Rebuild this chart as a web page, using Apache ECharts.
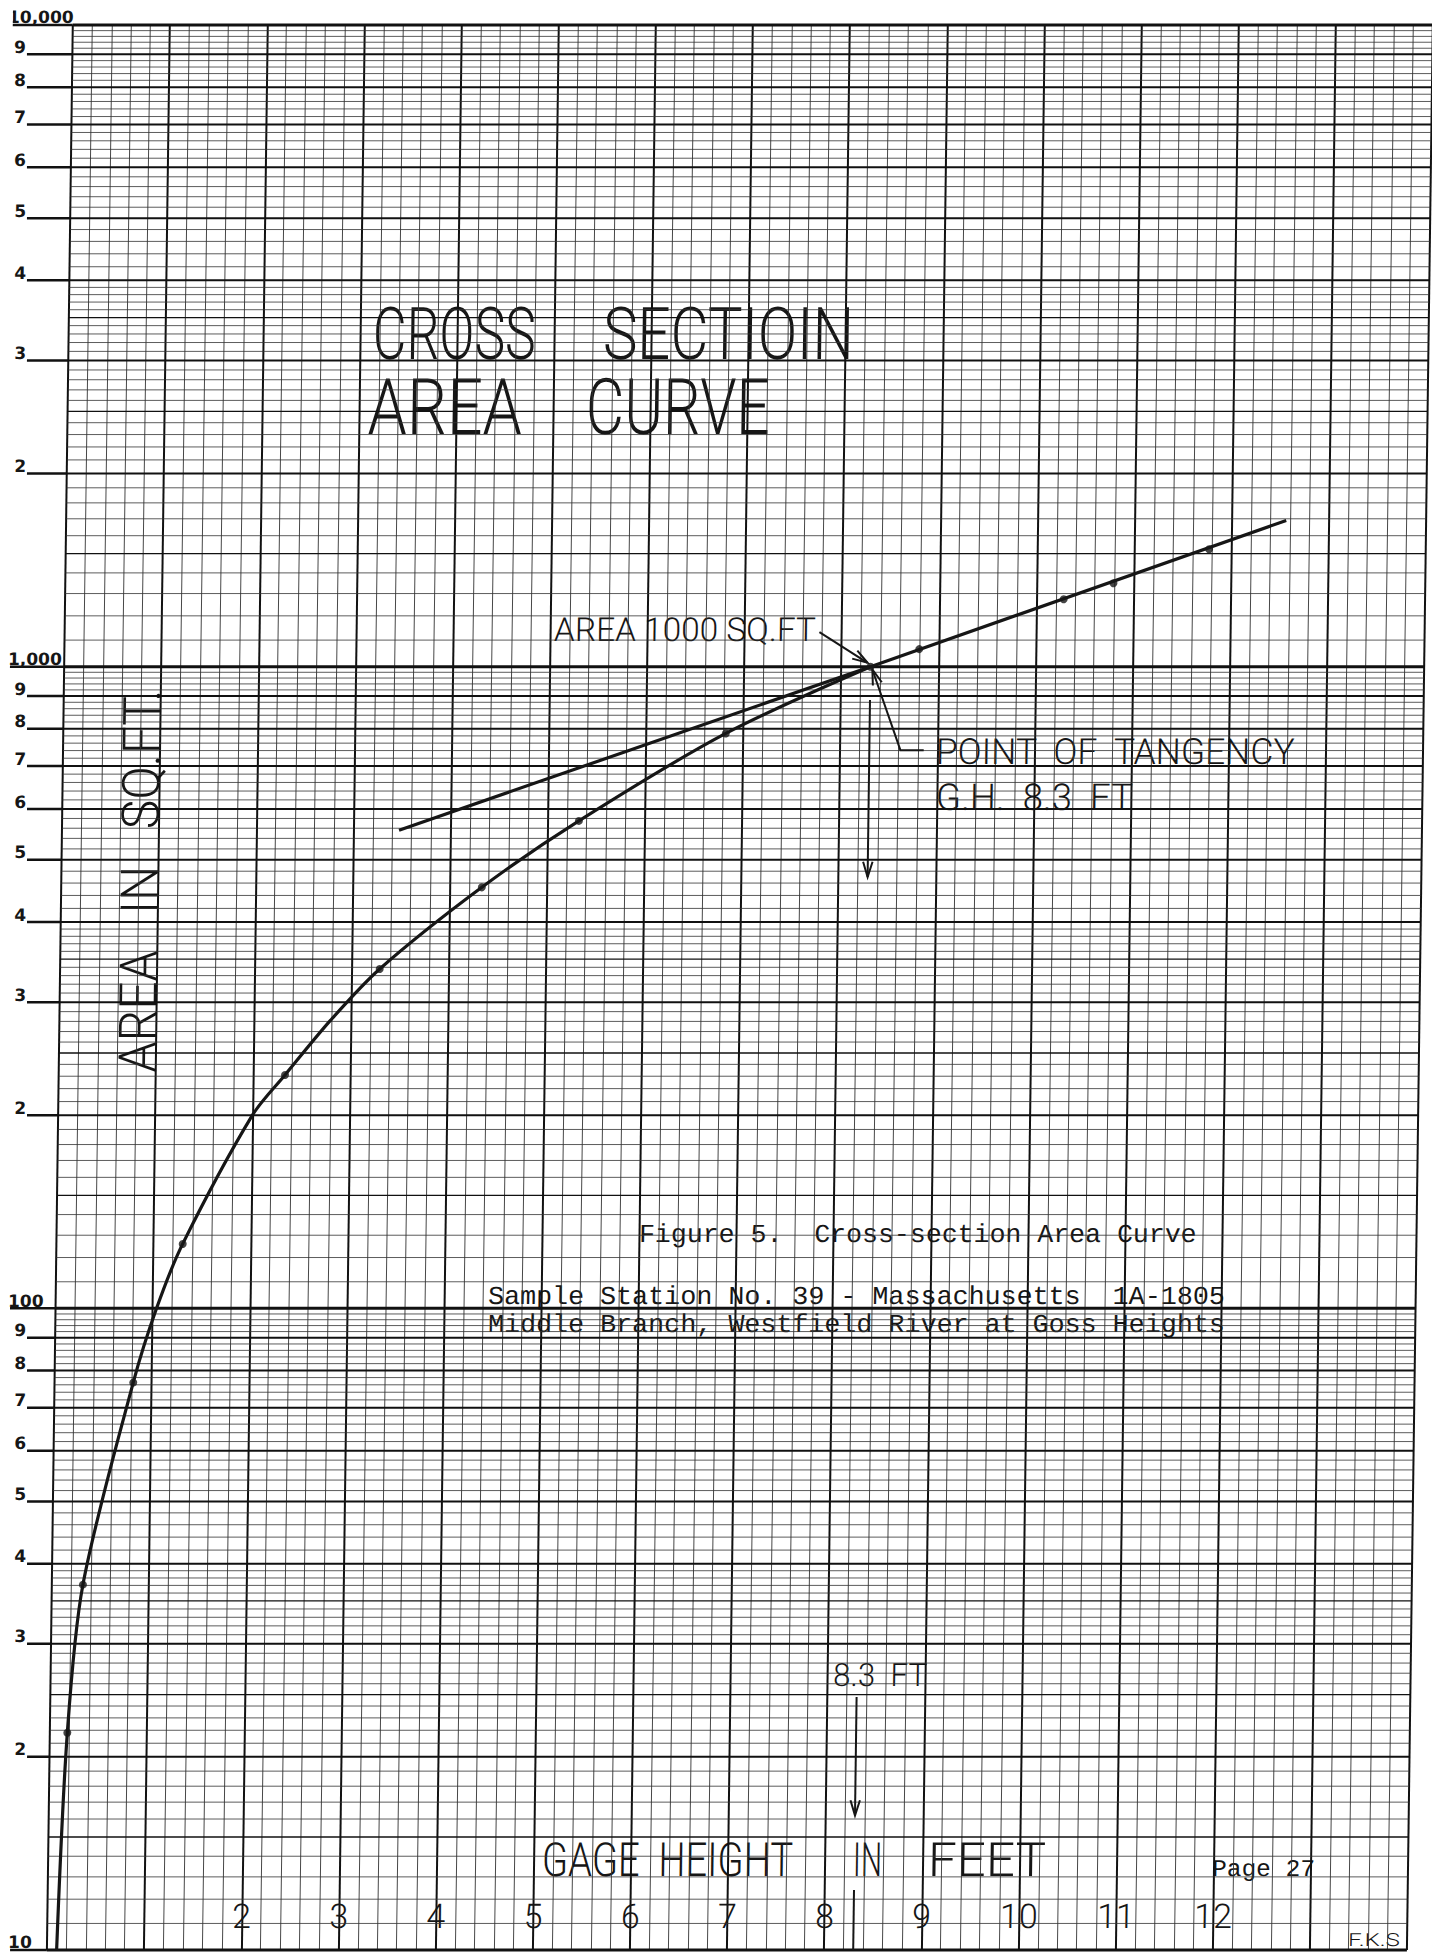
<!DOCTYPE html>
<html>
<head>
<meta charset="utf-8">
<script src="https://cdn.jsdelivr.net/npm/echarts@6/dist/echarts.min.js"></script>
<style>
  html, body { margin: 0; padding: 0; background: #fff; overflow: hidden; }
  /* the scanned sheet leans a little: verticals drift ~26px over the height */
  #chart { width: 1432px; height: 1952px; transform: skewX(-0.77deg); transform-origin: 0 976px; }
</style>
</head>
<body>
<div id="chart"></div>
<script>
// cross-section area curve
const curveGage = [0.10, 0.18, 0.32, 0.81, 1.04, 1.30, 2.00, 2.33, 2.79, 3.29, 4.33, 5.32, 6.82, 8.30]
const curveArea = [10, 21.8, 37.1, 76.6, 100, 126, 200, 231, 281, 338, 453, 575, 787, 1000]

// straight tangent through the point of tangency (G.H. 8.3 ft)
const tangentGage = [3.47, 8.30, 12.56]
const tangentArea = [556, 1000, 1690]

// plotted observations
const pointGage = [0.18, 0.32, 0.81, 1.30, 2.33, 3.29, 4.33, 5.32, 6.82, 8.30, 8.80, 10.28, 10.79, 11.77]
const pointArea = [21.8, 37.1, 76.6, 126, 231, 338, 453, 575, 787, 1000, 1065, 1274, 1349, 1524]

// axis labels
const xTickLabels = [2, 3, 4, 5, 6, 7, 8, 9, 10, 11, 12]
const yTickValues = [10, 20, 30, 40, 50, 60, 70, 80, 90, 100, 200, 300, 400, 500, 600, 700, 800, 900,
  1000, 2000, 3000, 4000, 5000, 6000, 7000, 8000, 9000, 10000]
const yTickLabels = ['10', '2', '3', '4', '5', '6', '7', '8', '9', '100', '2', '3', '4', '5', '6', '7', '8', '9',
  '1,000', '2', '3', '4', '5', '6', '7', '8', '9', '10,000']

// annotation leaders: [gage, area] pairs, arrow head at the last point
const leaders = [
  { pts: [[7.77, 1132], [8.27, 1014]], head: true },
  { pts: [[8.86, 741], [8.62, 741], [8.32, 990]], head: true },
  { pts: [[8.30, 887], [8.30, 470]], head: true },
  { pts: [[8.30, 24.8], [8.30, 16.2]], head: true },
  { pts: [[8.30, 12.4], [8.30, 10]], head: false }
]

const HAND = "Roboto, Lato, 'DejaVu Sans', sans-serif"
const TYPE = "'Liberation Mono', 'DejaVu Sans Mono', monospace"
const INK = '#161616'
const SKEW = 0.0135
const MID_Y = 976

// page positions; take the lean back out
const unskew = (x, y) => x - (MID_Y - y) * SKEW

const ctx = document.createElement('canvas').getContext('2d')
const fit = (text, font, width) => {
  ctx.font = font
  return width / ctx.measureText(text).width
}

// semi-log paper rulings (1-4 by tenths, 4-10 by fifths)
const hRules = []
for (const base of [10, 100, 1000]) {
  for (let k = 10; k < 100; k += (k < 40 ? 1 : 2)) {
    let w = 0.8
    if (k === 10) w = 3
    else if (k % 10 === 0) w = 2
    else if (k === 15 || k === 25 || k === 35) w = 1.3
    hRules.push([0, base * k / 10, w])
  }
}
hRules.push([0, 10000, 3])

const chart = echarts.init(document.getElementById('chart'), null, { renderer: 'svg' })

const pageText = (text, x, y, size, width, family, extra) => {
  const font = `${family === TYPE ? 'normal' : '300'} ${size}px ${family}`
  return Object.assign({
    type: 'text',
    x: unskew(x, y),
    y,
    scaleX: fit(text, font, width),
    silent: true,
    style: {
      text,
      font,
      fill: INK,
      align: 'left',
      verticalAlign: 'middle'
    }
  }, extra || {})
}

const yTitle = pageText('AREA   IN   SQ.FT.', 140, 881, 52, 383, HAND, { rotation: Math.PI / 2 })
yTitle.style.align = 'center'

const option = {
  animation: false,
  backgroundColor: '#fff',
  grid: { left: 60, right: 12, top: 25, bottom: 2, containLabel: false },
  xAxis: {
    type: 'value',
    min: 0,
    max: 14,
    interval: 1,
    axisLine: { show: false },
    axisTick: { show: false },
    axisLabel: {
      inside: true,
      margin: 17,
      fontSize: 34,
      fontWeight: 300,
      fontFamily: HAND,
      color: INK,
      formatter: v => (xTickLabels.includes(v) ? String(v) : '')
    },
    splitLine: { show: true, lineStyle: { color: '#111', width: 2 } },
    minorTick: { show: false, splitNumber: 5 },
    minorSplitLine: { show: true, lineStyle: { color: '#333', width: 0.9 } }
  },
  yAxis: {
    type: 'log',
    logBase: 10,
    min: 10,
    max: 10000,
    axisLine: { show: false },
    axisTick: { show: false },
    axisLabel: { show: false },
    splitLine: { show: false }
  },
  series: [
    {
      type: 'custom',
      name: 'rules',
      silent: true,
      z: 1,
      encode: { x: 0, y: 1 },
      data: hRules,
      renderItem: (params, api) => {
        const w = api.value(2)
        const a = api.coord([0, api.value(1)])
        const b = api.coord([14, api.value(1)])
        return {
          type: 'line',
          shape: { x1: a[0], y1: a[1], x2: b[0], y2: b[1] },
          style: { stroke: w > 1 ? '#111' : '#333', lineWidth: w }
        }
      }
    },
    {
      type: 'custom',
      name: 'yLabels',
      silent: true,
      clip: false,
      z: 3,
      encode: { x: 0, y: 1 },
      data: yTickValues.map(v => [0, v]),
      renderItem: (params, api) => {
        const i = params.dataIndex
        const p = api.coord([0, yTickValues[i]])
        const txt = yTickLabels[i]
        const decade = txt.length > 1
        const tx = unskew(decade ? 8 : 26, p[1])
        return {
          type: 'group',
          children: [
            {
              type: 'line',
              shape: { x1: decade ? tx + 2 : tx + 1, y1: p[1], x2: p[0], y2: p[1] },
              style: { stroke: '#111', lineWidth: 2.5 }
            },
            {
              type: 'text',
              style: {
                text: txt,
                x: tx,
                y: p[1] + 1,
                font: 'bold 17px "DejaVu Sans", sans-serif',
                fill: INK,
                align: decade ? 'left' : 'right',
                verticalAlign: 'bottom'
              }
            }
          ]
        }
      }
    },
    {
      type: 'line',
      name: 'Area curve',
      data: curveGage.map((g, i) => [g, curveArea[i]]),
      smooth: 0.3,
      symbol: 'none',
      z: 5,
      lineStyle: { color: INK, width: 3.2 }
    },
    {
      type: 'line',
      name: 'Tangent',
      data: tangentGage.map((g, i) => [g, tangentArea[i]]),
      symbol: 'none',
      z: 5,
      lineStyle: { color: INK, width: 3.2 }
    },
    {
      type: 'scatter',
      name: 'Observed',
      data: pointGage.map((g, i) => [g, pointArea[i]]),
      symbol: 'circle',
      symbolSize: 8,
      z: 6,
      itemStyle: { color: INK }
    },
    {
      type: 'custom',
      name: 'leaders',
      silent: true,
      clip: false,
      z: 6,
      data: leaders.map((_, i) => [i]),
      renderItem: (params, api) => {
        const ld = leaders[params.dataIndex]
        const px = ld.pts.map(q => api.coord(q))
        const children = [{
          type: 'polyline',
          shape: { points: px },
          style: { stroke: INK, lineWidth: 2, fill: null }
        }]
        if (ld.head) {
          const tip = px[px.length - 1]
          const prev = px[px.length - 2]
          const ang = Math.atan2(tip[1] - prev[1], tip[0] - prev[0])
          const len = 16
          const spread = 0.3
          children.push({
            type: 'polyline',
            shape: {
              points: [
                [tip[0] - len * Math.cos(ang - spread), tip[1] - len * Math.sin(ang - spread)],
                tip,
                [tip[0] - len * Math.cos(ang + spread), tip[1] - len * Math.sin(ang + spread)]
              ]
            },
            style: { stroke: INK, lineWidth: 2, fill: null }
          })
        }
        return { type: 'group', children }
      }
    }
  ],
  graphic: [
    pageText('CROSS', 373, 334, 73, 163, HAND),
    pageText('SECTIOIN', 603, 334, 73, 251, HAND),
    pageText('AREA', 368, 407, 78, 154, HAND),
    pageText('CURVE', 586, 407, 78, 184, HAND),
    pageText('AREA 1000 SQ.FT', 554, 630, 33, 262, HAND),
    pageText('POINT  OF  TANGENCY', 936, 752, 36, 360, HAND),
    pageText('G.H.  8.3  FT', 936, 797, 37, 197, HAND),
    pageText('8.3  FT', 833, 1675, 32, 94, HAND),
    pageText('GAGE  HEIGHT', 542, 1860, 47, 251, HAND),
    pageText('IN', 853, 1860, 47, 29, HAND),
    pageText('FEET', 928, 1860, 47, 118, HAND),
    yTitle,
    pageText('Figure 5.  Cross-section Area Curve', 639, 1235, 26, 558, TYPE),
    pageText('Sample Station No. 39 - Massachusetts  1A-1805', 488, 1297, 26, 737, TYPE),
    pageText('Middle Branch, Westfield River at Goss Heights', 488, 1325, 26, 737, TYPE),
    pageText('Page 27', 1212, 1870, 24, 103, TYPE),
    pageText('F.K.S', 1348, 1940, 18, 52, HAND)
  ]
}

chart.setOption(option)
</script>
</body>
</html>
